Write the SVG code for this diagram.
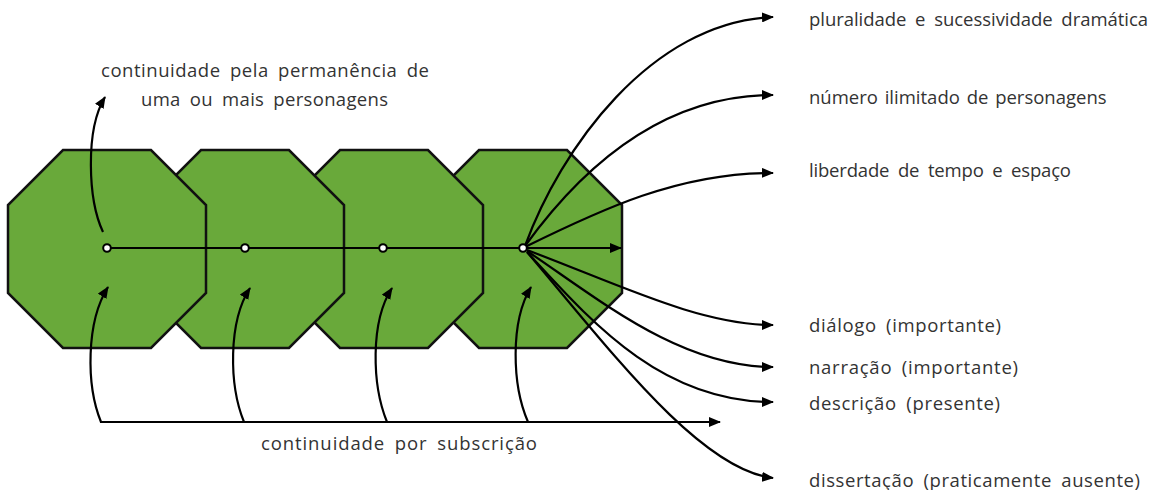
<svg xmlns="http://www.w3.org/2000/svg" width="1167" height="490" viewBox="0 0 1167 490">
<defs>
<style>
.oct{fill:#69a93a;stroke:#111;stroke-width:2.5;stroke-linejoin:miter}
.ln{fill:none;stroke:#000;stroke-width:2.2}
.arr{marker-end:url(#ah)}
.dot{fill:#fff;stroke:#000;stroke-width:2}
.lbl{font-family:"Open Sans","Noto Sans","Liberation Sans",sans-serif;font-size:18.5px;fill:#333;word-spacing:4px}
</style>
<marker id="ah" viewBox="0 0 12 10" refX="11" refY="5" markerWidth="12" markerHeight="10" markerUnits="userSpaceOnUse" orient="auto">
<path d="M0,0 L12,5 L0,10 Z" fill="#000"/>
</marker>
<polygon id="octshape" points="-44,-99 44,-99 99,-44 99,44 44,99 -44,99 -99,44 -99,-44"/>
</defs>
<rect width="1167" height="490" fill="#fff"/>
<g id="node4"><use href="#octshape" class="oct" x="523" y="249"/></g>
<g id="node3"><use href="#octshape" class="oct" x="384" y="249"/></g>
<g id="node2"><use href="#octshape" class="oct" x="245" y="249"/></g>
<g id="node1"><use href="#octshape" class="oct" x="107" y="249"/></g>
<g id="connectors">
<path class="ln arr" d="M107,248 H621"/>
<path class="ln arr" d="M103,232 C88,200 85,130 105,97"/>
<path class="ln arr" d="M101,422 C86,385 86,322 108,287"/>
<path class="ln arr" d="M244,422 C229,385 228,322 250,288"/>
<path class="ln arr" d="M387,422 C372,385 370,322 392,288"/>
<path class="ln arr" d="M528,422 C512,385 510,322 531,287"/>
<path class="ln arr" d="M100,422 H720"/>
<path class="ln arr" d="M525,246 C560,150 650,22 773,17"/>
<path class="ln arr" d="M525,246 C580,170 660,95 773,95"/>
<path class="ln arr" d="M525,247 C600,210 680,172 773,173"/>
<path class="ln arr" d="M527,250 C620,285 700,325 773,325"/>
<path class="ln arr" d="M527,251 C600,300 680,367 773,367"/>
<path class="ln arr" d="M527,252 C590,320 660,402 773,402"/>
<path class="ln arr" d="M527,252 C610,350 700,470 773,478"/>
</g>
<g id="dots">
<circle class="dot" cx="107" cy="248" r="3.8"/>
<circle class="dot" cx="245" cy="248" r="3.8"/>
<circle class="dot" cx="383" cy="248" r="3.8"/>
<circle class="dot" cx="523" cy="248" r="3.8"/>
</g>
<g id="labels">
<text class="lbl" x="101" y="77" textLength="328" lengthAdjust="spacing">continuidade pela permanência de</text>
<text class="lbl" x="141" y="106" textLength="247" lengthAdjust="spacing">uma ou mais personagens</text>
<text class="lbl" x="809" y="26" textLength="339" lengthAdjust="spacing">pluralidade e sucessividade dramática</text>
<text class="lbl" x="809" y="104" style="word-spacing:2px">número ilimitado de personagens</text>
<text class="lbl" x="809" y="177" textLength="262" lengthAdjust="spacing">liberdade de tempo e espaço</text>
<text class="lbl" x="809" y="332" textLength="192" lengthAdjust="spacing">diálogo (importante)</text>
<text class="lbl" x="809" y="374" textLength="209" lengthAdjust="spacing">narração (importante)</text>
<text class="lbl" x="809" y="410" textLength="191" lengthAdjust="spacing">descrição (presente)</text>
<text class="lbl" x="809" y="487" textLength="331" lengthAdjust="spacing">dissertação (praticamente ausente)</text>
<text class="lbl" x="261" y="450" textLength="276" lengthAdjust="spacing">continuidade por subscrição</text>
</g>
</svg>
